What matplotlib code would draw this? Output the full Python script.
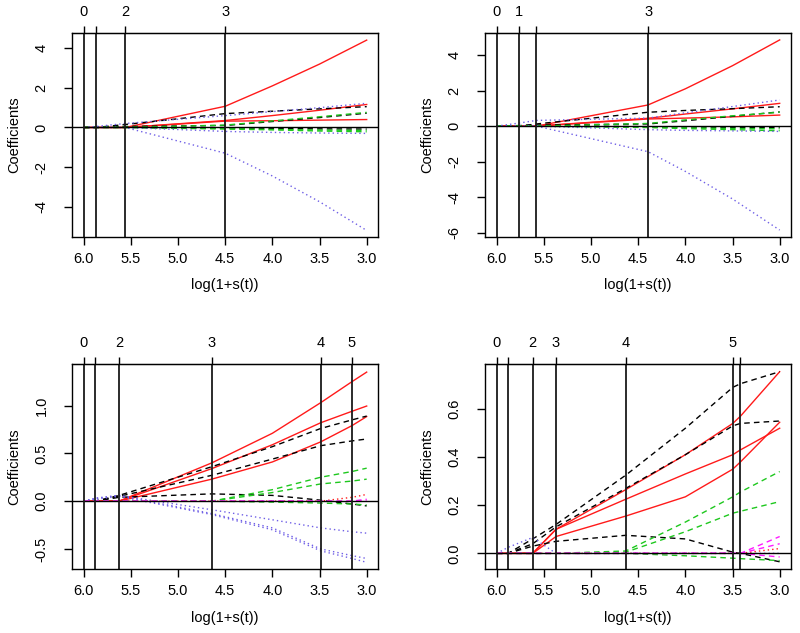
import matplotlib
matplotlib.use("Agg")
import matplotlib.pyplot as plt

plt.rcParams['font.family'] = ['Liberation Sans', 'DejaVu Sans']
plt.rcParams['font.size'] = 10.5
plt.rcParams['axes.unicode_minus'] = False

RED = '#ff1a1a'
BLACK = '#000000'
GREEN = '#1ec81e'
BLUE = '#6f5fe6'
MAGENTA = '#ff1aff'

x_ticks = [6.0, 5.5, 5.0, 4.5, 4.0, 3.5, 3.0]

# ---- panel 1 (top left)
p1_x = [6.0, 5.87, 5.56, 4.5, 4.0, 3.5, 3.0]
p1_breaks = [6.0, 5.87, 5.56, 4.5]
p1_labels = ['0', '', '2', '3']
p1_red = [[0, 0, 0, 1.07, 2.1, 3.2, 4.41],
          [0, 0, 0, 0.35, 0.6, 0.87, 1.16],
          [0, 0, 0, 0.32, 0.34, 0.37, 0.4]]
p1_black = [[0, 0, 0.15, 0.7, 0.82, 0.94, 1.05],
            [0, 0, 0.05, 0.1, 0.3, 0.5, 0.72],
            [0, 0, 0.02, -0.03, -0.05, -0.07, -0.08]]
p1_green = [[0, 0, 0, 0.12, 0.33, 0.54, 0.76],
            [0, 0, 0, -0.05, -0.1, -0.13, -0.15],
            [0, 0, 0, -0.08, -0.12, -0.18, -0.22]]
p1_blue = [[0, 0.05, 0.2, 0.6, 0.8, 1.0, 1.22],
           [0, 0, 0, -1.3, -2.45, -3.75, -5.2],
           [0, 0, 0, -0.2, -0.25, -0.28, -0.3]]
p1_yticks = [-4, -2, 0, 2, 4]
p1_ytick_labels = ['-4', '-2', '0', '2', '4']

# ---- panel 2 (top right)
p2_x = [6.0, 5.764, 5.58, 4.396, 4.0, 3.5, 3.0]
p2_breaks = [6.0, 5.764, 5.58, 4.396]
p2_labels = ['0', '1', '', '3']
p2_red = [[0, 0, 0, 1.19, 2.1, 3.4, 4.85],
          [0, 0, 0, 0.44, 0.68, 0.97, 1.28],
          [0, 0, 0, 0.4, 0.45, 0.52, 0.62]]
p2_black = [[0, 0, 0.12, 0.78, 0.88, 0.98, 1.09],
            [0, 0.03, 0.06, 0.12, 0.3, 0.55, 0.8],
            [0, 0, 0.02, -0.03, -0.05, -0.07, -0.08]]
p2_green = [[0, 0, 0, 0.15, 0.35, 0.58, 0.78],
            [0, 0, 0, -0.05, -0.1, -0.13, -0.15],
            [0, 0, 0, -0.08, -0.14, -0.2, -0.26]]
p2_blue = [[0, 0.17, 0.32, 0.45, 0.75, 1.1, 1.47],
           [0, 0, 0, -1.44, -2.55, -4.1, -5.85],
           [0, 0, 0, -0.2, -0.24, -0.27, -0.3]]
p2_yticks = [-6, -4, -2, 0, 2, 4]
p2_ytick_labels = ['-6', '-4', '-2', '0', '2', '4']

# ---- panel 3 (bottom left)
p3_x = [6.0, 5.876, 5.626, 4.643, 4.0, 3.488, 3.156, 3.0]
p3_breaks = [6.0, 5.876, 5.626, 4.643, 3.488, 3.156]
p3_labels = ['0', '', '2', '3', '4', '5']
p3_red = [[0, 0, 0, 0.40, 0.71, 1.03, 1.25, 1.35],
          [0, 0, 0, 0.34, 0.59, 0.82, 0.94, 0.995],
          [0, 0, 0, 0.23, 0.41, 0.62, 0.79, 0.885]]
p3_black = [[0, 0, 0.06, 0.36, 0.57, 0.76, 0.85, 0.89],
            [0, 0, 0.05, 0.27, 0.44, 0.58, 0.63, 0.65],
            [0, 0, 0.04, 0.076, 0.06, 0.01, -0.03, -0.05]]
p3_green = [[0, 0, 0, 0, 0.12, 0.25, 0.31, 0.345],
            [0, 0, 0, 0, 0.09, 0.18, 0.21, 0.23],
            [0, 0, 0, 0, -0.01, -0.02, -0.03, -0.04]]
p3_blue = [[0, 0.03, 0.06, -0.09, -0.195, -0.28, -0.32, -0.335],
           [0, 0.03, 0.06, -0.13, -0.28, -0.5, -0.57, -0.6],
           [0, 0.02, 0.05, -0.14, -0.3, -0.52, -0.6, -0.64]]
p3_red_dot = [[0, 0, 0, 0, 0, 0, 0.04, 0.07]]
p3_magenta = [[0, 0, 0, 0, 0, 0, 0, 0.02],
              [0, 0, 0, 0, 0, 0, 0, 0.01]]
p3_yticks = [-0.5, 0.0, 0.5, 1.0]
p3_ytick_labels = ['-0.5', '0.0', '0.5', '1.0']

# ---- panel 4 (bottom right)
p4_x = [6.0, 5.88, 5.619, 5.372, 4.632, 4.0, 3.497, 3.416, 3.0]
p4_breaks = [6.0, 5.88, 5.619, 5.372, 4.632, 3.497, 3.416]
p4_labels = ['0', '', '2', '3', '4', '5', '']
p4_red = [[0, 0, 0, 0.1, 0.265, 0.41, 0.54, 0.57, 0.755],
          [0, 0, 0, 0.1, 0.225, 0.33, 0.41, 0.43, 0.52],
          [0, 0, 0, 0.07, 0.155, 0.235, 0.35, 0.38, 0.545]]
p4_black = [[0, 0, 0.06, 0.12, 0.325, 0.52, 0.69, 0.705, 0.755],
            [0, 0, 0.04, 0.11, 0.27, 0.41, 0.53, 0.54, 0.55],
            [0, 0, 0.03, 0.05, 0.075, 0.06, 0.005, 0.0, -0.035]]
p4_green = [[0, 0, 0, 0, 0.01, 0.13, 0.235, 0.255, 0.34],
            [0, 0, 0, 0, 0.005, 0.09, 0.167, 0.175, 0.215],
            [0, 0, 0, 0, 0, -0.01, -0.02, -0.022, -0.03]]
p4_blue = [[0, 0.025, 0.066, 0, 0, 0, 0, 0, 0]]
p4_red_dot = [[0, 0, 0, 0, 0, 0, 0, 0, 0.02]]
p4_magenta = [[0, 0, 0, 0, 0, 0, 0, 0, 0.07],
              [0, 0, 0, 0, 0, 0, 0, 0, 0.04],
              [0, 0, 0, 0, 0, 0, 0, 0, -0.015]]
p4_yticks = [0.0, 0.2, 0.4, 0.6]
p4_ytick_labels = ['0.0', '0.2', '0.4', '0.6']

DASHED = (0, (4, 3))
DOTTED = (0, (1, 2.2))


def draw(ax, x, groups, breaks, labels, ylim, yticks, yticklabels, xlab_off):
    for series, color, ls in groups:
        for s in series:
            ax.plot(x, s, color=color, ls=ls, lw=1.0)
    ax.axhline(0, color='black', lw=1.0)
    for b in breaks:
        ax.axvline(b, color='#1a1a1a', lw=1.3)
    ax.set_xlim(6.125, 2.88)
    ax.set_ylim(*ylim)
    ax.set_xticks(x_ticks)
    ax.set_xticklabels(['%.1f' % v for v in x_ticks])
    ax.set_yticks(yticks)
    ax.set_yticklabels(yticklabels, rotation=90, va='center')
    ax.tick_params(axis='x', direction='out', length=6, width=1.0, pad=5)
    ax.tick_params(axis='y', direction='out', length=6, width=1.0, pad=11)
    for sp in ax.spines.values():
        sp.set_linewidth(1.0)
    top = ax.secondary_xaxis('top')
    top.set_xticks(breaks)
    top.set_xticklabels(labels)
    top.tick_params(direction='out', length=5, width=1.0, pad=5)
    ax.text(0.5, xlab_off, 'log(1+s(t))', transform=ax.transAxes,
            ha='center', va='center')
    ax.text(-0.19, 0.5, 'Coefficients', transform=ax.transAxes,
            ha='center', va='center', rotation=90)


fig = plt.figure(figsize=(8, 6.33), dpi=100)

ax1 = fig.add_axes([0.09, 0.6256, 0.3825, 0.3223])
draw(ax1, p1_x,
     [(p1_red, RED, '-'), (p1_black, BLACK, DASHED),
      (p1_green, GREEN, DASHED), (p1_blue, BLUE, DOTTED)],
     p1_breaks, p1_labels, (-5.53, 4.77), p1_yticks, p1_ytick_labels, -0.235)

ax2 = fig.add_axes([0.60625, 0.6256, 0.3825, 0.3223])
draw(ax2, p2_x,
     [(p2_red, RED, '-'), (p2_black, BLACK, DASHED),
      (p2_green, GREEN, DASHED), (p2_blue, BLUE, DOTTED)],
     p2_breaks, p2_labels, (-6.24, 5.24), p2_yticks, p2_ytick_labels, -0.235)

ax3 = fig.add_axes([0.09, 0.1011, 0.3825, 0.3239])
draw(ax3, p3_x,
     [(p3_red, RED, '-'), (p3_black, BLACK, DASHED),
      (p3_green, GREEN, DASHED), (p3_blue, BLUE, DOTTED),
      (p3_red_dot, RED, DOTTED), (p3_magenta, MAGENTA, DASHED)],
     p3_breaks, p3_labels, (-0.71, 1.435), p3_yticks, p3_ytick_labels, -0.24)

ax4 = fig.add_axes([0.60625, 0.1011, 0.3825, 0.3239])
draw(ax4, p4_x,
     [(p4_red, RED, '-'), (p4_black, BLACK, DASHED),
      (p4_green, GREEN, DASHED), (p4_blue, BLUE, DOTTED),
      (p4_red_dot, RED, DOTTED), (p4_magenta, MAGENTA, DASHED)],
     p4_breaks, p4_labels, (-0.065, 0.787), p4_yticks, p4_ytick_labels, -0.24)

fig.savefig('out.png', dpi=100)
